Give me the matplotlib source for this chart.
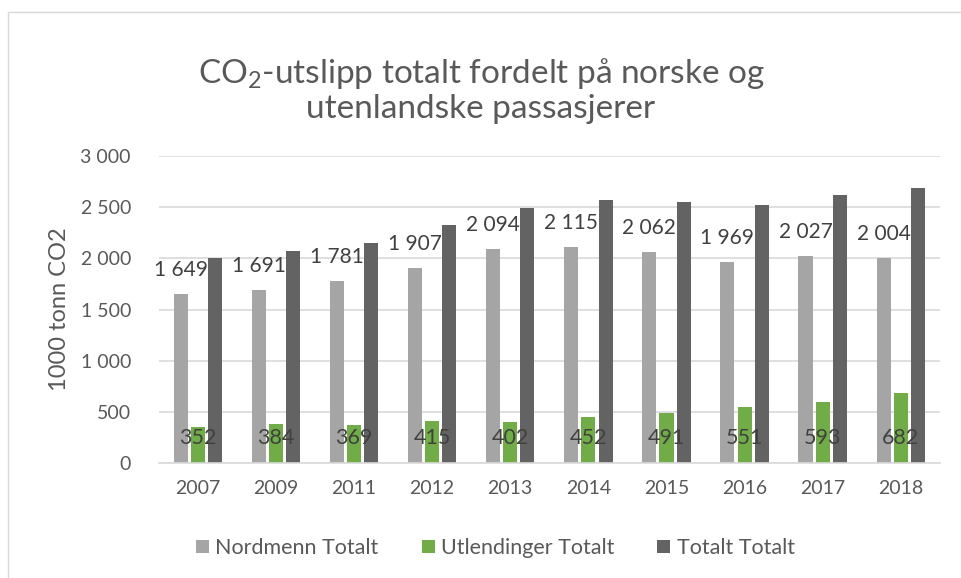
import matplotlib.pyplot as plt
import numpy as np
from matplotlib.patches import Rectangle

plt.rcParams['font.family'] = ['Lato', 'DejaVu Sans']
plt.rcParams['mathtext.fontset'] = 'custom'
plt.rcParams['mathtext.rm'] = 'Lato'

aar = ["2007", "2009", "2011", "2012", "2013", "2014", "2015", "2016", "2017", "2018"]
nordmenn = [1649, 1691, 1781, 1907, 2094, 2115, 2062, 1969, 2027, 2004]
utlendinger = [352, 384, 369, 415, 402, 452, 491, 551, 593, 682]
totalt = [2001, 2075, 2150, 2322, 2496, 2567, 2553, 2520, 2620, 2686]

farge_nord = "#A5A5A5"
farge_utl = "#70AD47"
farge_tot = "#636363"
tekst = "#595959"
etikett = "#404040"


def fmt(v):
    return f"{v:,}".replace(",", " ")


fig = plt.figure(figsize=(9.62, 5.78), dpi=100)
fig.patches.append(Rectangle((0.008, -0.1), 1.1, 1.08, transform=fig.transFigure,
                             fill=False, edgecolor="#D9D9D9", linewidth=1))
ax = fig.add_axes([0.165, 0.199, 0.812, 0.531])

x = np.arange(len(aar))
w = 0.18
steg = 0.22
ax.bar(x - steg, nordmenn, width=w, color=farge_nord, label="Nordmenn Totalt", zorder=2)
ax.bar(x, utlendinger, width=w, color=farge_utl, label="Utlendinger Totalt", zorder=2)
ax.bar(x + steg, totalt, width=w, color=farge_tot, label="Totalt Totalt", zorder=2)

for i in range(len(aar)):
    ax.annotate(fmt(nordmenn[i]), (x[i] - steg, nordmenn[i]), xytext=(0, 24),
                textcoords="offset pixels", ha="center", va="center",
                fontsize=15, color=etikett, zorder=3)
    ax.annotate(fmt(utlendinger[i]), (x[i], 0), xytext=(0, 25),
                textcoords="offset pixels", ha="center", va="center",
                fontsize=15.5, color=etikett, zorder=3)

ax.set_xlim(-0.5, len(aar) - 0.5)
ax.set_ylim(0, 3000)
ax.set_yticks(range(0, 3001, 500))
ax.set_yticklabels([fmt(v) for v in range(0, 3001, 500)])
ax.set_xticks(x)
ax.set_xticklabels(aar)
ax.tick_params(length=0, labelsize=14, labelcolor=tekst)
ax.tick_params(axis="x", pad=12)
ax.tick_params(axis="y", pad=20)
ax.grid(axis="y", color="#D9D9D9", linewidth=1.2, zorder=0)
for s in ["top", "right", "left"]:
    ax.spines[s].set_visible(False)
ax.spines["bottom"].set_color("#D9D9D9")
ax.spines["bottom"].set_linewidth(1.2)

ax.set_ylabel("1000 tonn CO2", fontsize=17, color=tekst, va="center")
ax.yaxis.set_label_coords(-0.127, 0.5)

fig.text(0.5, 0.845, "CO$_\\mathrm{2}$-utslipp totalt fordelt på norske og\nutenlandske passasjerer",
         ha="center", va="center", fontsize=24, color=tekst, linespacing=1.12)

fig.legend(loc="center", bbox_to_anchor=(0.515, 0.052), ncol=3, frameon=False,
           fontsize=15.5, labelcolor=tekst, handlelength=0.6, handleheight=0.6,
           handletextpad=0.3, columnspacing=2.0)

fig.savefig("out.png", dpi=100)
